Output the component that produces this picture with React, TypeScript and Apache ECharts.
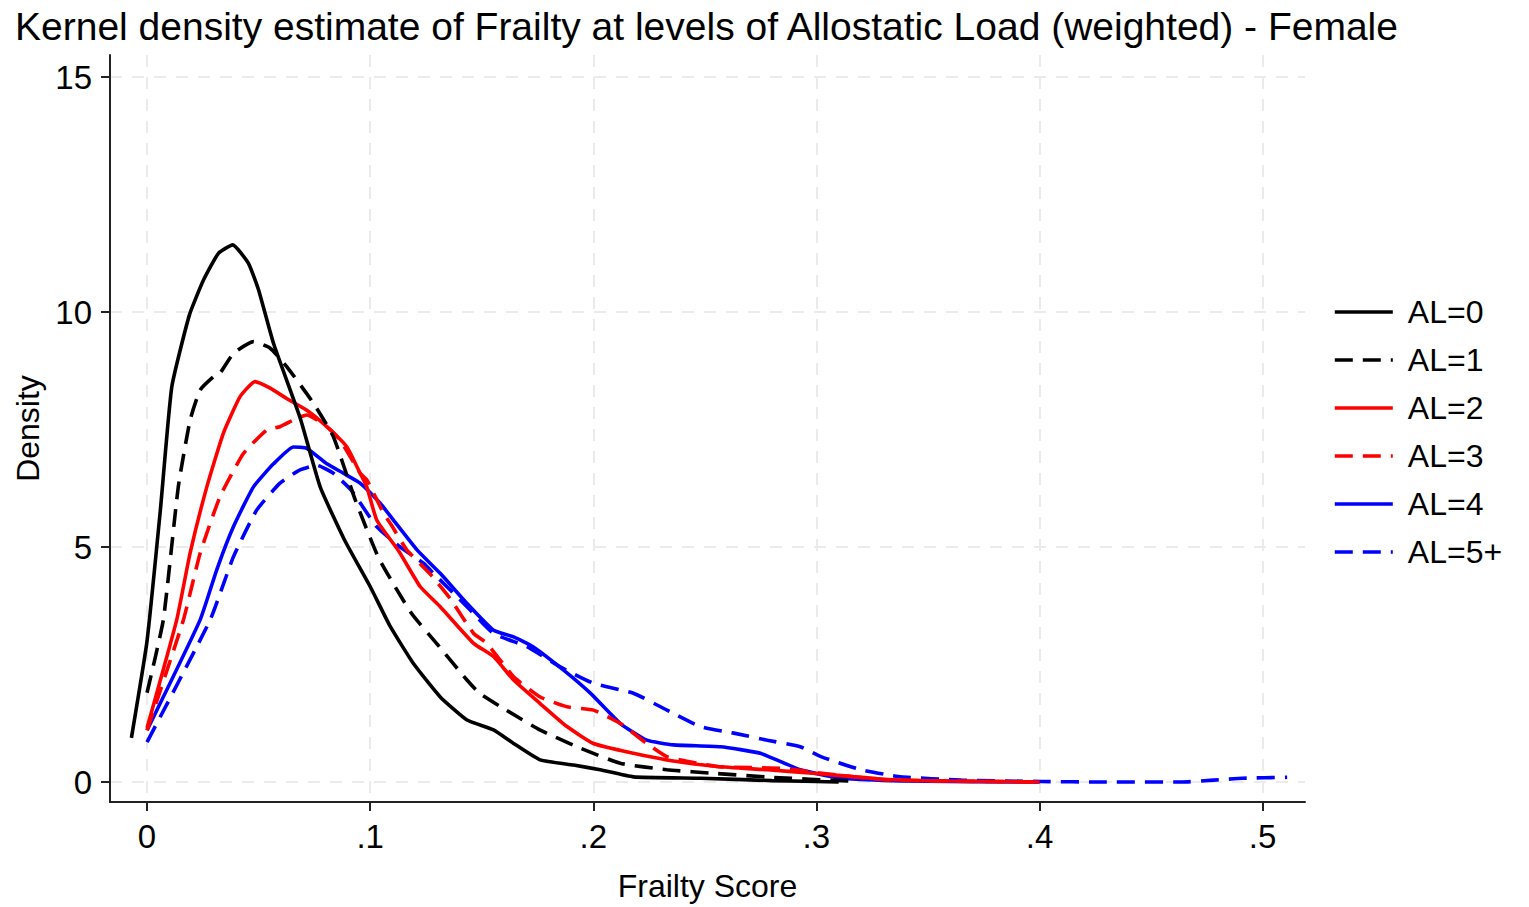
import React, { useEffect, useRef } from "react";
import * as echarts from "echarts";

const FONT = "'Liberation Sans', Arial, Helvetica, sans-serif";

const titleText = "Kernel density estimate of Frailty at levels of Allostatic Load (weighted) - Female";
const xTicks = [0, 0.1, 0.2, 0.3, 0.4, 0.5];
const yTicks = [0, 5, 10, 15];
const seriesNames = ["AL=0", "AL=1", "AL=2", "AL=3", "AL=4", "AL=5+"];

const al0 = [
  [-0.007, 0.94], [0, 3.0], [0.006, 5.8], [0.0111, 8.41], [0.019, 9.94], [0.0253, 10.68],
  [0.032, 11.25], [0.0384, 11.43], [0.0454, 11.04], [0.05, 10.47], [0.0567, 9.33],
  [0.0686, 7.75], [0.0776, 6.28], [0.0885, 5.15], [0.1, 4.16], [0.109, 3.31],
  [0.1194, 2.52], [0.1314, 1.81], [0.1434, 1.32], [0.1553, 1.11], [0.1643, 0.82],
  [0.1762, 0.47], [0.1912, 0.36], [0.2031, 0.26], [0.218, 0.11], [0.248, 0.08],
  [0.28, 0.03], [0.31, 0.0],
];

const al1 = [
  [0, 1.9], [0.0073, 3.45], [0.014, 6.28], [0.0193, 7.7], [0.0238, 8.34], [0.0297, 8.62],
  [0.0327, 8.7], [0.0387, 9.12], [0.0477, 9.37], [0.0552, 9.23], [0.0626, 8.84],
  [0.0746, 8.06], [0.0835, 7.35], [0.0935, 5.98], [0.104, 4.75], [0.1185, 3.59],
  [0.131, 2.88], [0.1434, 2.17], [0.149, 1.89], [0.161, 1.53], [0.176, 1.11],
  [0.1927, 0.75], [0.212, 0.4], [0.233, 0.26], [0.2555, 0.18], [0.28, 0.1], [0.315, 0.02],
];

const al2 = [
  [0, 1.15], [0.0133, 3.45], [0.0193, 4.87], [0.0268, 6.28], [0.0342, 7.42], [0.0417, 8.2],
  [0.0484, 8.52], [0.0552, 8.38], [0.0626, 8.16], [0.0716, 7.91], [0.0806, 7.56],
  [0.0896, 7.13], [0.0955, 6.57], [0.0985, 6.28], [0.103, 5.57], [0.113, 4.9],
  [0.1224, 4.16], [0.1314, 3.73], [0.1464, 2.95], [0.1553, 2.67], [0.1643, 2.17],
  [0.1762, 1.67], [0.1882, 1.18], [0.2001, 0.82], [0.218, 0.61], [0.233, 0.47],
  [0.2555, 0.33], [0.278, 0.26], [0.3, 0.18], [0.33, 0.06], [0.36, 0.02], [0.4, 0.0],
];

const al3 = [
  [0, 1.1], [0.0163, 3.45], [0.0238, 4.87], [0.0327, 6.07], [0.0432, 6.99], [0.0537, 7.49],
  [0.0596, 7.56], [0.0671, 7.74], [0.0716, 7.81], [0.0806, 7.56], [0.0865, 7.28],
  [0.0955, 6.57], [0.0985, 6.43], [0.106, 5.72], [0.11, 5.43], [0.1164, 4.94],
  [0.127, 4.42], [0.1359, 3.9], [0.1464, 3.16], [0.1523, 2.95], [0.1643, 2.24],
  [0.1762, 1.81], [0.1882, 1.6], [0.2001, 1.53], [0.212, 1.25], [0.224, 0.82],
  [0.233, 0.54], [0.2555, 0.33], [0.2853, 0.29], [0.3, 0.2], [0.33, 0.05], [0.36, 0.02], [0.4, 0.0],
];

const al4 = [
  [0, 1.1], [0.0238, 3.45], [0.0312, 4.51], [0.0387, 5.43], [0.0477, 6.28], [0.0567, 6.77],
  [0.0656, 7.13], [0.0716, 7.1], [0.0806, 6.77], [0.088, 6.57], [0.0955, 6.36],
  [0.1045, 5.93], [0.11, 5.6], [0.121, 4.94], [0.1314, 4.44], [0.1434, 3.8],
  [0.1553, 3.23], [0.1643, 3.09], [0.173, 2.88], [0.1867, 2.38], [0.1987, 1.89],
  [0.212, 1.25], [0.224, 0.89], [0.236, 0.79], [0.257, 0.75], [0.2749, 0.61],
  [0.2928, 0.26], [0.311, 0.08], [0.34, 0.02], [0.4, 0.0],
];

const al5 = [
  [0, 0.85], [0.0283, 3.45], [0.0387, 4.79], [0.0492, 5.79], [0.0596, 6.36], [0.0686, 6.64],
  [0.0761, 6.74], [0.0835, 6.57], [0.0915, 6.21], [0.103, 5.43], [0.1135, 5.0],
  [0.124, 4.65], [0.1284, 4.44], [0.1434, 3.73], [0.1553, 3.16], [0.1703, 2.88],
  [0.1852, 2.45], [0.2001, 2.1], [0.218, 1.89], [0.233, 1.53], [0.248, 1.18],
  [0.263, 1.04], [0.278, 0.89], [0.2928, 0.75], [0.302, 0.54], [0.32, 0.26],
  [0.338, 0.11], [0.365, 0.04], [0.401, 0.01], [0.428, 0.0], [0.464, 0.0],
  [0.478, 0.04], [0.491, 0.08], [0.511, 0.1],
];

const seriesData = [al0, al1, al2, al3, al4, al5];
const seriesColors = ["#000000", "#000000", "#ff0000", "#ff0000", "#0000ff", "#0000ff"];
const seriesDashed = [false, true, false, true, false, true];

export default function App() {
  const ref = useRef<HTMLDivElement>(null);
  useEffect(() => {
    if (!ref.current) return;
    const chart = echarts.init(ref.current, null, { renderer: "svg" });
    const tickFmt = (v: number) => {
      if (Math.abs(v) < 1e-9) return "0";
      return String(Math.round(v * 10) / 10).replace(/^0\./, ".");
    };
    chart.setOption({
      animation: false,
      backgroundColor: "#ffffff",
      title: {
        text: titleText,
        left: 10,
        top: 2,
        textStyle: { fontFamily: FONT, fontSize: 39, fontWeight: "normal", color: "#000" },
      },
      legend: {
        orient: "vertical",
        left: 1328,
        top: 291,
        itemWidth: 58,
        itemHeight: 14,
        itemGap: 16,
        data: seriesNames,
        itemStyle: { opacity: 0, borderWidth: 0 },
        lineStyle: { width: 3.6 },
        textStyle: { fontFamily: FONT, fontSize: 32, color: "#000", padding: [0, 0, 0, 10] },
      },
      grid: { left: 110, right: 224, top: 55, bottom: 105, containLabel: false },
      xAxis: {
        type: "value",
        min: -0.0166,
        max: 0.519,
        name: "Frailty Score",
        nameLocation: "middle",
        nameGap: 68,
        nameTextStyle: { fontFamily: FONT, fontSize: 32, color: "#000" },
        axisLine: { show: true, onZero: false, lineStyle: { color: "#222", width: 2 } },
        axisTick: { show: true, length: 9, customValues: xTicks, lineStyle: { color: "#222", width: 2 } },
        axisLabel: {
          customValues: xTicks,
          formatter: tickFmt,
          fontFamily: FONT,
          fontSize: 33,
          color: "#000",
          margin: 18,
        },
        splitLine: { show: true, lineStyle: { color: "#ebebeb", width: 2, type: [12, 10] } },
      },
      yAxis: {
        type: "value",
        min: -0.4255,
        max: 15.47,
        name: "Density",
        nameLocation: "middle",
        nameGap: 57,
        nameTextStyle: { fontFamily: FONT, fontSize: 32, color: "#000" },
        axisLine: { show: true, onZero: false, lineStyle: { color: "#222", width: 2 } },
        axisTick: { show: true, length: 9, customValues: yTicks, lineStyle: { color: "#222", width: 2 } },
        axisLabel: {
          customValues: yTicks,
          fontFamily: FONT,
          fontSize: 33,
          color: "#000",
          margin: 18,
        },
        splitLine: { show: true, lineStyle: { color: "#ebebeb", width: 2, type: [12, 10] } },
      },
      series: seriesNames.map((name, i) => ({
        name,
        type: "line",
        data: seriesData[i],
        showSymbol: false,
        symbol: "none",
        smooth: 0.15,
        color: seriesColors[i],
        lineStyle: {
          color: seriesColors[i],
          width: 3.6,
          type: seriesDashed[i] ? [18, 10] : "solid",
          cap: "butt",
        },
        z: 10 - i,
      })),
    });
    return () => chart.dispose();
  }, []);
  return (
    <div
      ref={ref}
      style={{ position: "absolute", left: 0, top: 0, width: 1529, height: 907 }}
    />
  );
}
